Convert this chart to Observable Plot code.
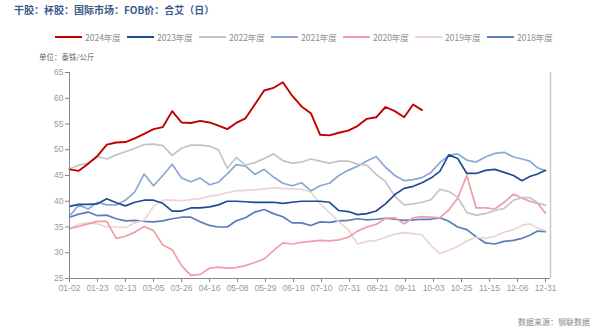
<!DOCTYPE html>
<html><head><meta charset="utf-8">
<script src="https://cdn.jsdelivr.net/npm/d3@7"></script>
<script src="https://cdn.jsdelivr.net/npm/@observablehq/plot@0.6"></script>
<style>
body{margin:0;background:#fff;font-family:"Noto Sans CJK SC","Noto Sans",sans-serif;}
#wrap{position:relative;width:605px;height:334px;overflow:hidden;background:#fff;}
#title{position:absolute;left:14px;top:2px;font-size:10px;font-weight:bold;color:#3b5a8a;white-space:nowrap;}
#legend{position:absolute;left:55px;top:31px;display:flex;white-space:nowrap;}
.item{width:72px;display:flex;align-items:center;font-size:8.5px;color:#8c8c8c;}
.sw{width:27px;height:2.5px;margin-right:3px;display:inline-block;}
#unit{position:absolute;left:39px;top:51px;font-size:7.5px;color:#666;white-space:nowrap;}
#chart{position:absolute;left:0;top:62px;}
#source{position:absolute;right:15px;top:316px;font-size:8px;color:#888;white-space:nowrap;}
</style></head>
<body><div id="wrap">
<div id="title">干胶：杯胶：国际市场：FOB价：合艾（日）</div>
<div id="legend"></div>
<div id="unit">单位：泰铢/公斤</div>
<div id="chart"></div>
<div id="source">数据来源：钢联数据</div>
</div>
<script>
const years = ["2024年度","2023年度","2022年度","2021年度","2020年度","2019年度","2018年度"];
const colors = ["#c00000","#1f4b96","#c4c4c4","#8ba8d3","#f19ca6","#ecd4d4","#5a7dbb"];
const tickLabels = ["01-02","01-23","02-13","03-05","03-26","04-16","05-08","05-29","06-19","07-10","07-31","08-21","09-11","10-03","10-25","11-15","12-06","12-31"];
const yTicks = [25,30,35,40,45,50,55,60,65];

// weekly observations starting 01-02
const v2024 = [46.2,45.9,47.3,48.8,51.0,51.4,51.5,52.2,53.1,54.0,54.4,57.5,55.3,55.2,55.6,55.3,54.7,54.0,55.2,56.1,58.8,61.5,62.0,63.1,60.5,58.4,57.1,52.9,52.8,53.3,53.7,54.6,56.0,56.3,58.3,57.5,56.3,58.8,57.7];
const v2023 = [39.0,39.4,39.4,39.5,40.5,39.7,39.1,39.8,40.2,40.2,39.6,38.1,38.1,38.7,38.7,38.9,39.3,40.0,40.0,39.9,39.8,39.8,39.8,39.6,39.8,40.0,40.0,40.0,39.8,38.2,38.0,37.4,37.6,38.1,39.5,41.3,42.5,42.9,43.6,44.5,45.8,49.0,48.3,45.4,45.4,46.0,46.2,45.6,45.0,44.0,44.8,45.3,46.0];
const v2022 = [46.3,47.0,47.4,48.7,48.2,49.0,49.6,50.3,51.0,51.1,50.8,48.9,50.3,50.9,50.9,50.7,50.0,46.4,48.5,47.0,47.5,48.3,49.2,47.9,47.4,47.6,48.2,47.8,47.4,47.8,47.8,47.2,47.0,45.2,43.8,41.0,39.3,39.5,39.8,40.3,42.3,41.9,40.8,37.8,37.3,37.6,38.2,38.6,40.2,40.7,40.7,39.7,39.2];
const v2021 = [37.1,39.3,38.5,39.8,39.3,39.3,40.2,41.8,45.3,43.0,45.0,47.2,44.5,43.8,44.5,43.2,43.7,45.3,47.1,46.8,45.2,46.2,44.7,43.5,43.0,43.6,42.0,43.0,43.5,45.0,46.0,46.8,47.8,48.7,46.6,45.0,44.0,44.2,44.6,45.6,47.5,48.9,49.2,48.0,47.6,48.6,49.3,49.5,48.6,48.2,47.8,46.5,45.9];
const v2020 = [34.7,35.1,35.6,36.1,36.1,32.8,33.2,34.0,35.1,34.3,31.5,30.6,27.5,25.6,25.8,27.0,27.2,27.0,27.1,27.5,28.1,28.8,30.4,31.9,31.7,32.0,32.2,32.4,32.3,32.5,33.0,34.2,35.0,35.5,36.7,36.8,35.6,36.8,37.0,36.9,36.8,38.3,40.6,45.0,38.7,38.7,38.5,39.8,41.4,40.6,40.0,39.6,37.7];
const v2019 = [34.6,35.5,35.8,35.6,35.0,35.0,34.9,35.8,36.3,39.0,40.2,40.2,40.1,40.3,40.5,41.0,41.2,41.7,42.0,42.1,42.2,42.4,42.6,42.5,42.4,42.3,41.8,39.5,37.8,36.0,34.5,31.7,32.2,32.4,33.0,33.6,33.9,33.7,33.5,31.4,29.8,30.5,31.2,32.3,33.0,32.8,33.2,34.0,34.5,35.3,35.6,34.8,34.3];
const v2018 = [36.9,37.5,37.9,37.2,37.3,36.6,36.2,36.3,36.1,36.0,36.2,36.6,36.9,36.9,36.0,35.3,35.0,35.0,36.2,36.8,37.9,38.4,37.6,37.0,35.8,35.8,35.3,36.0,35.9,36.2,36.3,36.6,36.4,36.5,36.7,36.5,36.3,36.4,36.5,36.5,36.8,36.1,35.0,34.5,33.1,31.9,31.7,32.2,32.4,32.8,33.4,34.2,34.1];

const seriesValues = [v2024,v2023,v2022,v2021,v2020,v2019,v2018];
const DAY = 864e5;
const start = Date.UTC(2024,0,2);
const rows = vals => vals.map((v,i)=>({date:new Date(start + 7*i*DAY), value:v}));

const tickDates = tickLabels.map(s => new Date("2024-" + s + "T00:00:00Z"));
const endDate = new Date(Date.UTC(2025,0,4));
// category-like axis: equal spacing between labelled ticks
const left = 69, step = 28;
const xRange = tickDates.map((d,k)=> k < tickDates.length-1 ? left + step*k : 545).concat([550]);

// legend
const lg = document.getElementById("legend");
years.forEach((y,i)=>{
  const it = document.createElement("div"); it.className="item";
  const sw = document.createElement("span"); sw.className="sw"; sw.style.background=colors[i];
  it.appendChild(sw); it.appendChild(document.createTextNode(y)); lg.appendChild(it);
});

const lineMarks = [];
for (let i = seriesValues.length-1; i >= 0; i--) {
  lineMarks.push(Plot.line(rows(seriesValues[i]), {x:"date", y:"value", stroke:colors[i], strokeWidth: i===0?1.9:1.7}));
}

const chart = Plot.plot({
  width:605, height:240,
  marginTop:10, marginBottom:24, marginLeft:69, marginRight:55,
  style:{fontFamily:"'Liberation Sans', Arial, sans-serif", fontSize:"8.5px", color:"#999", background:"#fff"},
  x:{type:"utc", domain:[...tickDates, endDate], range:xRange},
  y:{domain:[25,65]},
  marks:[
    Plot.axisY({ticks:yTicks, tickSize:4, tickPadding:2, label:null, stroke:"#888", fill:"#999"}),
    Plot.axisX({ticks:tickDates, tickFormat:d3.utcFormat("%m-%d"), tickSize:4, tickPadding:2, label:null, stroke:"#888", fill:"#999"}),
    Plot.ruleX([endDate], {stroke:"#c8c8c8", strokeWidth:1.5}),
    ...lineMarks,
    Plot.ruleY([25], {stroke:"#888"}),
    Plot.ruleX([tickDates[0]], {stroke:"#888"})
  ]
});
document.getElementById("chart").appendChild(chart);
</script>
</body></html>
